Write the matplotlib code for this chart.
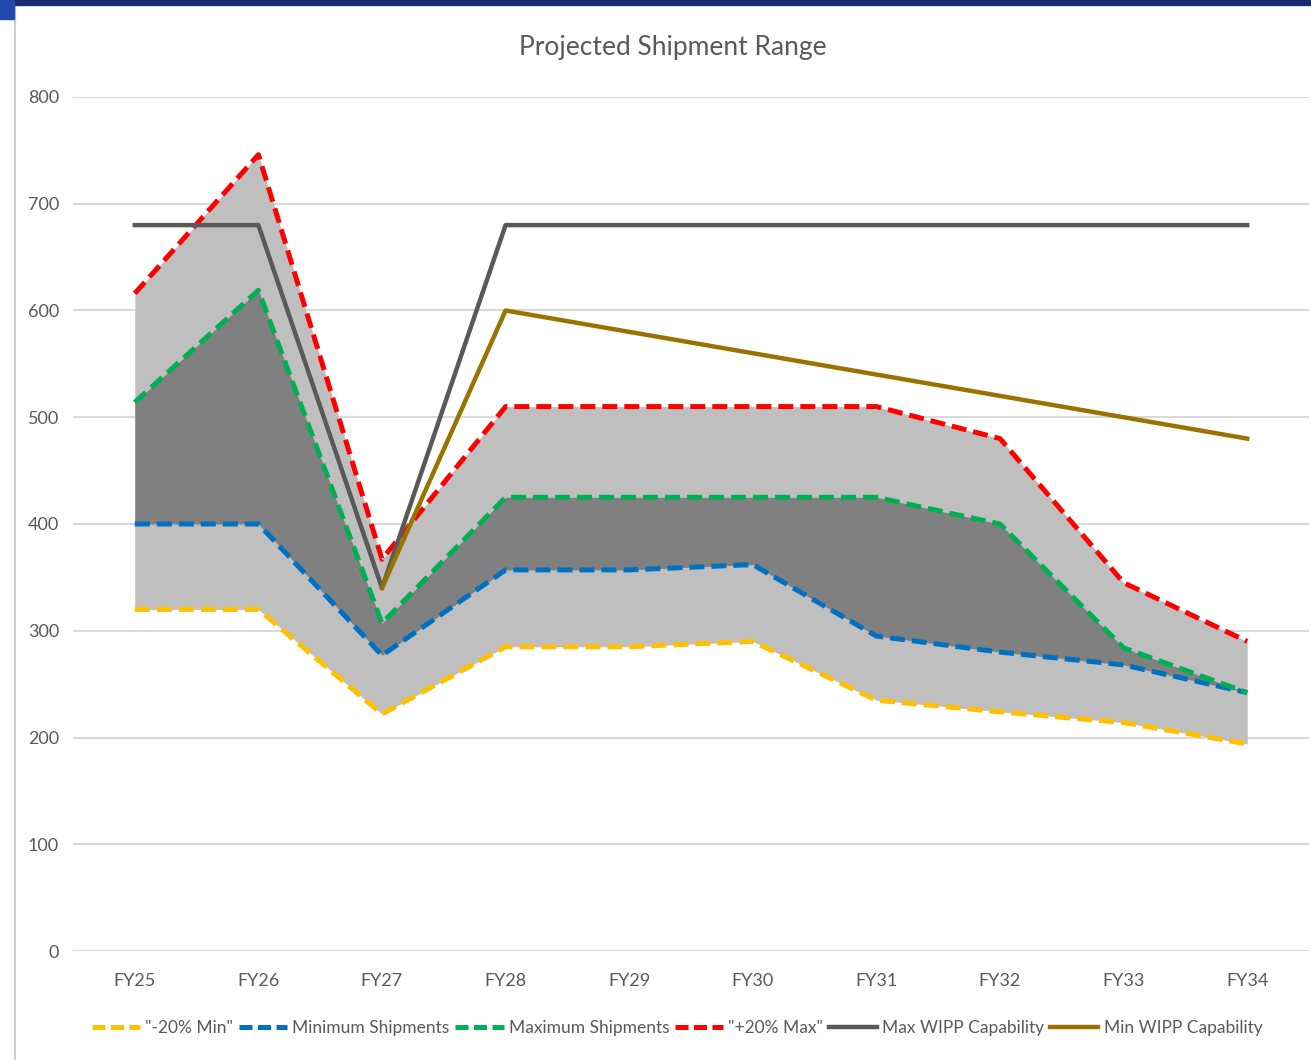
import numpy as np
import matplotlib
matplotlib.use('Agg')
import matplotlib.pyplot as plt
from matplotlib.patches import Rectangle
from matplotlib.lines import Line2D

plt.rcParams['font.family'] = ['Lato', 'DejaVu Sans']

# Данные графика
years = ['FY25', 'FY26', 'FY27', 'FY28', 'FY29', 'FY30', 'FY31', 'FY32', 'FY33', 'FY34']
min_minus20 = [320, 320, 222, 285, 285, 290, 235, 224, 214, 194]
min_ship = [400, 400, 277, 357, 357, 362, 295, 280, 268, 242]
max_ship = [514, 619, 307, 425, 425, 425, 425, 400, 284, 242]
max_plus20 = [616, 746, 367, 510, 510, 510, 510, 480, 345, 290]
max_wipp = [680, 680, 340, 680, 680, 680, 680, 680, 680, 680]
min_wipp = [np.nan, np.nan, 340, 600, 580, 560, 540, 520, 500, 480]

x = np.arange(len(years))
txt = '#595959'

fig = plt.figure(figsize=(13.11, 10.6), dpi=100)
ax = fig.add_axes([73 / 1311, 109 / 1060, 1236 / 1311, 854 / 1060])

# заливки диапазонов
ax.fill_between(x, min_minus20, max_plus20, color='#BFBFBF', lw=0, zorder=1)
ax.fill_between(x, min_ship, max_ship, color='#808080', lw=0, zorder=2)

lw = 3.6
ax.plot(x, min_minus20, color='#FFC000', lw=lw, dashes=(3, 1.4), zorder=3)
ax.plot(x, min_ship, color='#0070C0', lw=lw, dashes=(3, 1.4), zorder=3)
ax.plot(x, max_ship, color='#00B050', lw=lw, dashes=(3, 1.4), zorder=3)
ax.plot(x, max_plus20, color='#FF0000', lw=lw, dashes=(3, 1.4), zorder=3)
ax.plot(x, max_wipp, color='#595959', lw=3.2, zorder=4)
ax.plot(x, min_wipp, color='#997300', lw=3.2, zorder=4)

ax.set_xlim(-0.5, len(years) - 0.5)
ax.set_ylim(0, 800)
ax.set_yticks(range(0, 801, 100))
ax.set_xticks(x)
ax.set_xticklabels(years)
ax.grid(True, axis='y', color='#D9D9D9', lw=1.5, zorder=0)
ax.set_axisbelow(True)
for s in ax.spines.values():
    s.set_visible(False)
ax.tick_params(length=0, labelsize=13, colors=txt, pad=16)
ax.tick_params(axis='y', pad=10)

fig.text(673 / 1311, 1 - 47 / 1060, 'Projected Shipment Range', ha='center', va='center',
         fontsize=19, color=txt)

# легенда: три целых штриха на каждом маркере
leg_dash = (2.6, 1.1)
handles = [
    Line2D([], [], color='#FFC000', lw=lw, dashes=leg_dash),
    Line2D([], [], color='#0070C0', lw=lw, dashes=leg_dash),
    Line2D([], [], color='#00B050', lw=lw, dashes=leg_dash),
    Line2D([], [], color='#FF0000', lw=lw, dashes=leg_dash),
    Line2D([], [], color='#595959', lw=3.2),
    Line2D([], [], color='#997300', lw=3.2),
]
labels = ['"-20% Min"', 'Minimum Shipments', 'Maximum Shipments', '"+20% Max"',
          'Max WIPP Capability', 'Min WIPP Capability']
leg = fig.legend(handles, labels, loc='center', bbox_to_anchor=(677 / 1311, 1 - 1028 / 1060),
                 ncol=6, frameon=False, fontsize=12.5, handlelength=2.8, handletextpad=0.3,
                 columnspacing=0.3)
for t in leg.get_texts():
    t.set_color(txt)

# рамка скриншота
fig.patches.append(Rectangle((0, 1 - 5 / 1060), 1, 5 / 1060, transform=fig.transFigure,
                             color='#1A2A6E', zorder=10))
fig.patches.append(Rectangle((0, 1 - 19 / 1060), 14 / 1311, 19 / 1060, transform=fig.transFigure,
                             color='#2448B0', zorder=11))
fig.lines.append(Line2D([15 / 1311, 15 / 1311], [0, 1 - 5 / 1060], transform=fig.transFigure,
                        color='#D0D0D0', lw=1.5))

fig.savefig('out.png', dpi=100)
